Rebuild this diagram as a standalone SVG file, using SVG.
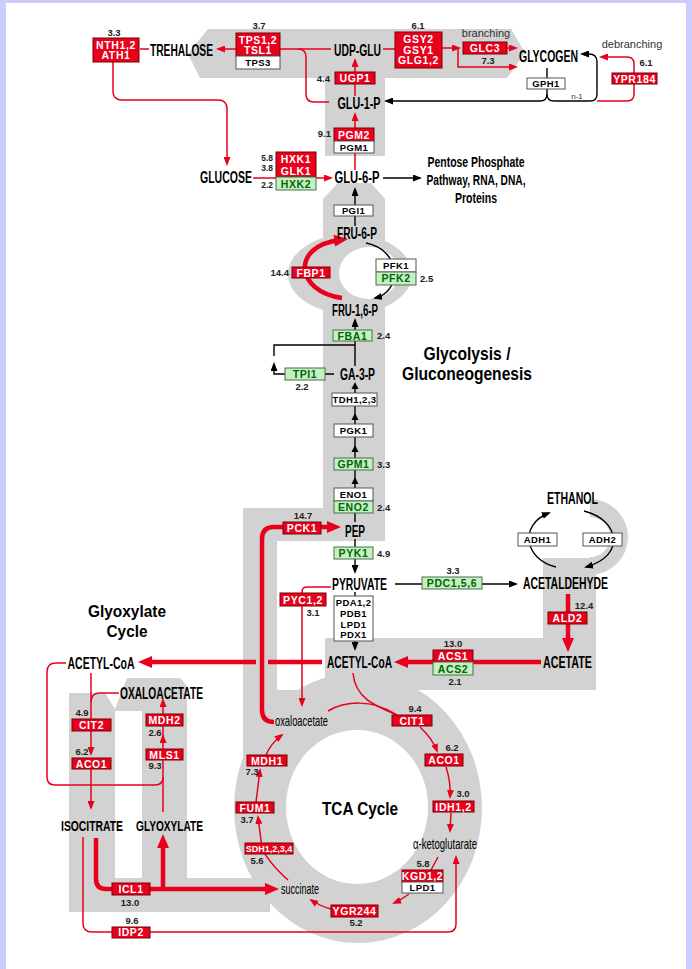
<svg xmlns="http://www.w3.org/2000/svg" width="692" height="969" viewBox="0 0 692 969">
<defs>
<style>
.gr{fill:#d2d2d2}
.wh{fill:#fff}
.rb{fill:#e8001c;stroke:#7a0000;stroke-width:1}
.gb{fill:#c4f0c4;stroke:#4a6e4a;stroke-width:1}
.wb{fill:#fff;stroke:#555;stroke-width:1}
text{font-family:"Liberation Sans",Arial,Helvetica,sans-serif}
.rt{font-size:10.5px;font-weight:bold;fill:#fff;text-anchor:middle;letter-spacing:0.6px}
.gt{font-size:10.5px;font-weight:bold;fill:#006600;text-anchor:middle;letter-spacing:0.6px}
.wt{font-size:9.5px;font-weight:bold;fill:#000;text-anchor:middle;letter-spacing:0.4px}
.n{font-size:9.5px;font-weight:bold;fill:#222;text-anchor:middle}
.nl{font-size:9.5px;font-weight:bold;fill:#222;text-anchor:start}
.nr{font-size:9.5px;font-weight:bold;fill:#222;text-anchor:end}
.m{font-size:16px;font-weight:bold;fill:#000;text-anchor:middle}
.ml{font-size:15px;fill:#000;text-anchor:middle}
.t{font-weight:bold;fill:#000;text-anchor:middle}
.s{font-size:11px;fill:#333;text-anchor:middle}
.rl{fill:none;stroke:#e8001c;stroke-width:1.5}
.rk{fill:none;stroke:#e8001c;stroke-width:4.5}
.bl{fill:none;stroke:#000;stroke-width:1.4}
</style>
<marker id="ab" viewBox="0 0 9 7" refX="7" refY="3.5" markerWidth="9" markerHeight="7" markerUnits="userSpaceOnUse" orient="auto"><path d="M0,0 L9,3.5 L0,7 z" fill="#000"/></marker>
<marker id="ar" viewBox="0 0 9 7" refX="7" refY="3.5" markerWidth="9" markerHeight="7" markerUnits="userSpaceOnUse" orient="auto"><path d="M0,0 L9,3.5 L0,7 z" fill="#e8001c"/></marker>
<marker id="ak" viewBox="0 0 14 12" refX="6" refY="6" markerWidth="14" markerHeight="12" markerUnits="userSpaceOnUse" orient="auto"><path d="M0,0 L14,6 L0,12 z" fill="#e8001c"/></marker>
</defs>

<rect x="0" y="0" width="692" height="969" fill="#fff"/>
<rect x="0" y="0" width="692" height="3" fill="#ccccff"/>
<rect x="0" y="0" width="6" height="969" fill="#ccccff"/>
<rect x="686" y="0" width="6" height="969" fill="#ccccff"/>

<g id="background">
<polygon class="gr" points="188,54 208,29 511,29 525,53 507,78 385,78 385,156 325,156 325,78 200,78"/>
<polygon class="gr" points="338,183 371,183 385,199 385,541 243,541 243,508 323,508 323,199"/>
<ellipse class="gr" cx="350" cy="274" rx="62" ry="40"/>
<ellipse class="wh" cx="369" cy="273" rx="30" ry="26"/>
<rect class="gr" x="243" y="508" width="34" height="252"/>
<rect class="gr" x="243" y="690" width="80" height="48"/>
<path class="gr" fill-rule="evenodd" d="M234 808 A124 135 0 1 0 482 808 A124 135 0 1 0 234 808 Z M286 807 A71 77 0 1 0 428 807 A71 77 0 1 0 286 807 Z"/>
<rect class="gr" x="325" y="638" width="271" height="52"/>
<rect class="gr" x="543" y="558" width="53" height="132"/>
<path class="gr" d="M590 499 A38 38 0 0 1 590 575 L590 557 A20 20 0 0 0 590 517 Z"/>
<path class="gr" fill-rule="evenodd" d="M69 693 L105 693 L115 709 L127 678 L180 678 L187 686 L187 878 L270 878 L270 912 L69 912 Z M115 711 L142 711 L142 878 L115 878 Z"/>
</g>

<g id="connectors">
<path class="bl" d="M383 178 L420 178" marker-end="url(#ab)"/>
<path class="bl" d="M355 226 L355 189" marker-end="url(#ab)"/>
<path class="bl" d="M366 243 C402 250 402 292 375 298" marker-end="url(#ab)"/>
<path class="bl" d="M355 366 L355 320" marker-end="url(#ab)"/>
<path class="bl" d="M355 345 L274 345 L274 356"/>
<path class="bl" d="M334 374 L274 374 L274 364" marker-end="url(#ab)"/>
<path class="bl" d="M355 522 L355 384"/>
<polygon points="355,382 351.5,389 358.5,389" fill="#000"/>
<polygon points="355,413 351.5,420 358.5,420" fill="#000"/>
<polygon points="355,445 351.5,452 358.5,452" fill="#000"/>
<polygon points="355,477 351.5,484 358.5,484" fill="#000"/>
<path class="bl" d="M355 539 L355 572" marker-end="url(#ab)"/>
<path class="bl" d="M395 584 L516 584" marker-end="url(#ab)"/>
<path class="bl" d="M355 592 L355 649" marker-end="url(#ab)"/>
<path class="bl" d="M556 567 C525 560 518 525 549 513" marker-end="url(#ab)"/>
<path class="bl" d="M584 511 C620 520 626 556 586 567" marker-end="url(#ab)"/>
<path class="bl" d="M547 68 L547 94 Q547 101 540 101 L386 101" marker-end="url(#ab)"/>
<path class="bl" d="M547 94 Q547 101 554 101 L590 101 Q597 101 597 94 L597 62 Q597 54 589 54 L582 54" marker-end="url(#ab)"/>
<path class="rl" d="M331 49 L280 49"/>
<path class="rl" d="M236 49 L218 49" marker-end="url(#ar)"/>
<path class="rl" d="M329 102 L314 102 Q306 102 306 94 L306 57 Q306 49 298 49"/>
<path class="rl" d="M140 49 L149 49"/>
<path class="rl" d="M113 62 L113 91 Q113 100 122 100 L218 100 Q227 100 227 109 L227 164" marker-end="url(#ar)"/>
<path class="rl" d="M355 96 L355 60" marker-end="url(#ar)"/>
<path class="rl" d="M355 170 L355 114" marker-end="url(#ar)"/>
<path class="rl" d="M253 178 L331 178" marker-end="url(#ar)"/>
<path class="rl" d="M383 49 L396 49"/>
<path class="rl" d="M442 48 L459 48" marker-end="url(#ar)"/>
<path class="rl" d="M507 48 L516 48" marker-end="url(#ar)"/>
<path class="rl" d="M458 48 L458 67 L516 67" marker-end="url(#ar)"/>
<path class="rl" d="M597 101 L627 101 Q634 101 634 94 L634 84"/>
<path class="rl" d="M634 73 L634 64 Q634 57 627 57 L601 57" marker-end="url(#ar)"/>
<path class="rl" d="M331 587 L307 587 Q302 587 302 592 L302 705" marker-end="url(#ar)"/>
<path class="rl" d="M353 673 C355 698 375 706 397 715"/>
<path class="rl" d="M328 711 C345 701 372 699 395 714"/>
<path class="rl" d="M420 727 Q432 738 437 751" marker-end="url(#ar)"/>
<path class="rl" d="M446 767 Q451 782 450 797" marker-end="url(#ar)"/>
<path class="rl" d="M451 813 L450 831" marker-end="url(#ar)"/>
<path class="rl" d="M438 857 L431 870"/>
<path class="rl" d="M409 894 Q401 900 394 903" marker-end="url(#ar)"/>
<path class="rl" d="M331 909 Q320 906 311 900" marker-end="url(#ar)"/>
<path class="rl" d="M288 880 Q268 862 262 848 L258 817" marker-end="url(#ar)"/>
<path class="rl" d="M256 802 L260 770" marker-end="url(#ar)"/>
<path class="rl" d="M266 755 Q271 743 282 735" marker-end="url(#ar)"/>
<path class="rl" d="M91 673 L91 719"/>
<path class="rl" d="M91 731 L91 754" marker-end="url(#ar)"/>
<path class="rl" d="M91 769 L91 808" marker-end="url(#ar)"/>
<path class="rl" d="M119 693 L100 693 Q91 693 91 702"/>
<path class="rl" d="M163 749 L163 736" marker-end="url(#ar)"/>
<path class="rl" d="M163 738 L163 726"/>
<path class="rl" d="M163 714 L163 700" marker-end="url(#ar)"/>
<path class="rl" d="M163 812 L163 760"/>
<path class="rl" d="M66 663 L56 663 Q47 663 47 672 L47 777 Q47 785 55 785 L155 785 Q163 785 163 777"/>
<path class="rl" d="M83 837 L83 923 Q83 932 92 932 L448 932 Q456 932 456 924 L456 857" marker-end="url(#ar)"/>
<path class="rk" d="M342 298 C296 292 290 246 340 240" marker-end="url(#ak)"/>
<path class="rk" d="M274 722 Q262 722 262 710 L262 539 Q262 527 274 527 L333 527" marker-end="url(#ak)"/>
<path class="rk" d="M568 594 L568 644" marker-end="url(#ak)"/>
<path class="rk" d="M541 662 L402 662" marker-end="url(#ak)"/>
<path class="rk" d="M322 662 L268 662"/>
<path class="rk" d="M256 662 L146 662" marker-end="url(#ak)"/>
<path class="rk" d="M96 838 L96 879 Q96 889 106 889 L271 889" marker-end="url(#ak)"/>
<path class="rk" d="M163 889 L163 842" marker-end="url(#ak)"/>
</g>

<g id="metabolites">
<text class="m" x="181.5" y="56" textLength="63" lengthAdjust="spacingAndGlyphs">TREHALOSE</text>
<text class="m" x="357.5" y="56" textLength="47" lengthAdjust="spacingAndGlyphs">UDP-GLU</text>
<text class="m" x="548.5" y="62" textLength="59" lengthAdjust="spacingAndGlyphs">GLYCOGEN</text>
<text class="m" x="359" y="109" textLength="43" lengthAdjust="spacingAndGlyphs">GLU-1-P</text>
<text class="m" x="226" y="183" textLength="52" lengthAdjust="spacingAndGlyphs">GLUCOSE</text>
<text class="m" x="357" y="183" textLength="45" lengthAdjust="spacingAndGlyphs">GLU-6-P</text>
<text class="m" x="476" y="167" textLength="97" lengthAdjust="spacingAndGlyphs" style="font-size:15px">Pentose Phosphate</text>
<text class="m" x="476" y="185" textLength="99" lengthAdjust="spacingAndGlyphs" style="font-size:15px">Pathway, RNA, DNA,</text>
<text class="m" x="476" y="203" textLength="42" lengthAdjust="spacingAndGlyphs" style="font-size:15px">Proteins</text>
<text class="m" x="357" y="239" textLength="40" lengthAdjust="spacingAndGlyphs">FRU-6-P</text>
<text class="m" x="355" y="316" textLength="46" lengthAdjust="spacingAndGlyphs">FRU-1,6-P</text>
<text class="m" x="357.5" y="380" textLength="35" lengthAdjust="spacingAndGlyphs">GA-3-P</text>
<text class="m" x="355" y="537" textLength="20" lengthAdjust="spacingAndGlyphs">PEP</text>
<text class="m" x="359.5" y="590" textLength="55" lengthAdjust="spacingAndGlyphs">PYRUVATE</text>
<text class="m" x="565.5" y="589" textLength="85" lengthAdjust="spacingAndGlyphs">ACETALDEHYDE</text>
<text class="m" x="572.5" y="504" textLength="51" lengthAdjust="spacingAndGlyphs">ETHANOL</text>
<text class="m" x="567.5" y="668" textLength="49" lengthAdjust="spacingAndGlyphs">ACETATE</text>
<text class="m" x="359.5" y="668" textLength="65" lengthAdjust="spacingAndGlyphs">ACETYL-CoA</text>
<text class="m" x="101" y="669" textLength="67" lengthAdjust="spacingAndGlyphs">ACETYL-CoA</text>
<text class="m" x="161.5" y="699" textLength="83" lengthAdjust="spacingAndGlyphs">OXALOACETATE</text>
<text class="m" x="92" y="831" textLength="62" lengthAdjust="spacingAndGlyphs" style="font-size:15px">ISOCITRATE</text>
<text class="m" x="169.5" y="831" textLength="67" lengthAdjust="spacingAndGlyphs" style="font-size:15px">GLYOXYLATE</text>
<text class="ml" x="301.5" y="726" textLength="53" lengthAdjust="spacingAndGlyphs">oxaloacetate</text>
<text class="ml" x="445" y="849" textLength="64" lengthAdjust="spacingAndGlyphs">α-ketoglutarate</text>
<text class="ml" x="300" y="894" textLength="38" lengthAdjust="spacingAndGlyphs">succinate</text>
</g>

<g id="titles">
<text class="t" x="467" y="360" style="font-size:19px" textLength="87" lengthAdjust="spacingAndGlyphs">Glycolysis /</text>
<text class="t" x="467" y="380" style="font-size:19px" textLength="130" lengthAdjust="spacingAndGlyphs">Gluconeogenesis</text>
<text class="t" x="127" y="617" style="font-size:17px" textLength="78" lengthAdjust="spacingAndGlyphs">Glyoxylate</text>
<text class="t" x="127" y="637" style="font-size:17px" textLength="41" lengthAdjust="spacingAndGlyphs">Cycle</text>
<text class="t" x="360" y="815" style="font-size:19px" textLength="76" lengthAdjust="spacingAndGlyphs">TCA Cycle</text>
<text class="s" x="486" y="37">branching</text>
<text class="s" x="632" y="48">debranching</text>
<text class="s" x="577" y="99" style="font-size:8px">n-1</text>
</g>

<g id="n-nth"><rect class="rb" x="93" y="38" width="46" height="24"/><text class="rt" x="116" y="48.5">NTH1,2</text><text class="rt" x="116" y="59">ATH1</text><text class="n" x="114" y="36">3.3</text></g>
<g id="n-tps"><rect class="rb" x="236" y="33" width="44" height="23"/><rect class="wb" x="236" y="56" width="44" height="13"/><text class="rt" x="258" y="43.5">TPS1,2</text><text class="rt" x="258" y="53.5">TSL1</text><text class="wt" x="258" y="66">TPS3</text><text class="n" x="259" y="29">3.7</text></g>
<g id="n-gsy"><rect class="rb" x="395" y="32" width="47" height="36"/><text class="rt" x="418.5" y="43">GSY2</text><text class="rt" x="418.5" y="53.5">GSY1</text><text class="rt" x="418.5" y="64">GLG1,2</text><text class="n" x="418" y="29">6.1</text></g>
<g id="n-glc3"><rect class="rb" x="463" y="42" width="44" height="12"/><text class="rt" x="485" y="52">GLC3</text><text class="n" x="488" y="64">7.3</text></g>
<g id="n-gph1"><rect class="wb" x="527" y="78" width="38" height="11"/><text class="wt" x="546" y="87">GPH1</text></g>
<g id="n-ypr"><rect class="rb" x="612" y="73" width="45" height="11"/><text class="rt" x="634.5" y="82.5">YPR184</text><text class="n" x="646" y="66">6.1</text></g>
<g id="n-ugp1"><rect class="rb" x="335" y="72" width="40" height="12"/><text class="rt" x="355" y="82">UGP1</text><text class="nr" x="330" y="82">4.4</text></g>
<g id="n-pgm"><rect class="rb" x="334" y="128" width="40" height="13"/><rect class="wb" x="334" y="141" width="40" height="12"/><text class="rt" x="354" y="138.5">PGM2</text><text class="wt" x="354" y="150.5">PGM1</text><text class="nr" x="331" y="137">9.1</text></g>
<g id="n-hxk"><rect class="rb" x="276" y="152" width="40" height="25"/><rect class="gb" x="276" y="177" width="40" height="13"/><text class="rt" x="296" y="162.5">HXK1</text><text class="rt" x="296" y="174.5">GLK1</text><text class="gt" x="296" y="187.5">HXK2</text><text class="nr" x="273" y="160.5" style="font-size:8.5px">5.8</text><text class="nr" x="273" y="171" style="font-size:8.5px">3.8</text><text class="nr" x="273" y="188" style="font-size:8.5px">2.2</text></g>
<g id="n-pgi1"><rect class="wb" x="334" y="205" width="39" height="11"/><text class="wt" x="353.5" y="214">PGI1</text></g>
<g id="n-fbp1"><rect class="rb" x="292" y="267" width="38" height="11"/><text class="rt" x="311" y="276.5">FBP1</text><text class="nr" x="289" y="276">14.4</text></g>
<g id="n-pfk"><rect class="wb" x="376" y="259" width="40" height="13"/><rect class="gb" x="376" y="272" width="40" height="13"/><text class="wt" x="396" y="269">PFK1</text><text class="gt" x="396" y="282">PFK2</text><text class="nl" x="420" y="282">2.5</text></g>
<g id="n-fba1"><rect class="gb" x="333" y="330" width="39" height="11"/><text class="gt" x="352.5" y="339.5">FBA1</text><text class="nl" x="377" y="339">2.4</text></g>
<g id="n-tpi1"><rect class="gb" x="285" y="368" width="40" height="12"/><text class="gt" x="305" y="378">TPI1</text><text class="n" x="302" y="390">2.2</text></g>
<g id="n-tdh"><rect class="wb" x="332" y="393" width="45" height="13"/><text class="wt" x="354.5" y="403">TDH1,2,3</text></g>
<g id="n-pgk1"><rect class="wb" x="334" y="424" width="39" height="13"/><text class="wt" x="353.5" y="434">PGK1</text></g>
<g id="n-gpm1"><rect class="gb" x="334" y="458" width="39" height="12"/><text class="gt" x="353.5" y="468">GPM1</text><text class="nl" x="377" y="468">3.3</text></g>
<g id="n-eno"><rect class="wb" x="334" y="488" width="39" height="13"/><rect class="gb" x="334" y="501" width="39" height="12"/><text class="wt" x="353.5" y="498">ENO1</text><text class="gt" x="353.5" y="511">ENO2</text><text class="nl" x="377" y="511">2.4</text></g>
<g id="n-pck1"><rect class="rb" x="283" y="522" width="38" height="12"/><text class="rt" x="302" y="532">PCK1</text><text class="n" x="303" y="519">14.7</text></g>
<g id="n-pyk1"><rect class="gb" x="334" y="547" width="39" height="12"/><text class="gt" x="353.5" y="557">PYK1</text><text class="nl" x="377" y="557">4.9</text></g>
<g id="n-pdc"><rect class="gb" x="422" y="577" width="60" height="12"/><text class="gt" x="452" y="587">PDC1,5,6</text><text class="n" x="453" y="574">3.3</text></g>
<g id="n-adh1"><rect class="wb" x="518" y="533" width="39" height="13"/><text class="wt" x="537.5" y="543">ADH1</text></g>
<g id="n-adh2"><rect class="wb" x="583" y="533" width="39" height="13"/><text class="wt" x="602.5" y="543">ADH2</text></g>
<g id="n-pyc"><rect class="rb" x="280" y="593" width="46" height="13"/><text class="rt" x="303" y="603.5">PYC1,2</text><text class="n" x="313" y="616">3.1</text></g>
<g id="n-pda"><rect class="wb" x="334" y="596" width="39" height="45"/><text class="wt" x="353.5" y="606">PDA1,2</text><text class="wt" x="353.5" y="617">PDB1</text><text class="wt" x="353.5" y="628">LPD1</text><text class="wt" x="353.5" y="638">PDX1</text></g>
<g id="n-ald2"><rect class="rb" x="548" y="612" width="39" height="12"/><text class="rt" x="567.5" y="622">ALD2</text><text class="n" x="584" y="609">12.4</text></g>
<g id="n-acs"><rect class="rb" x="433" y="650" width="40" height="12"/><rect class="gb" x="433" y="662" width="40" height="13"/><text class="rt" x="453" y="660">ACS1</text><text class="gt" x="453" y="672.5">ACS2</text><text class="n" x="453" y="647">13.0</text><text class="n" x="455" y="685">2.1</text></g>
<g id="n-cit2"><rect class="rb" x="72" y="719" width="39" height="12"/><text class="rt" x="91.5" y="729">CIT2</text><text class="n" x="82" y="716">4.9</text></g>
<g id="n-aco1g"><rect class="rb" x="72" y="758" width="39" height="11"/><text class="rt" x="91.5" y="767.5">ACO1</text><text class="n" x="82" y="755">6.2</text></g>
<g id="n-mdh2"><rect class="rb" x="146" y="714" width="37" height="12"/><text class="rt" x="164.5" y="724">MDH2</text><text class="n" x="155" y="736">2.6</text></g>
<g id="n-mls1"><rect class="rb" x="146" y="749" width="37" height="11"/><text class="rt" x="164.5" y="758.5">MLS1</text><text class="n" x="155" y="769">9.3</text></g>
<g id="n-icl1"><rect class="rb" x="112" y="883" width="38" height="12"/><text class="rt" x="131" y="893">ICL1</text><text class="n" x="130" y="906">13.0</text></g>
<g id="n-idp2"><rect class="rb" x="112" y="927" width="38" height="11"/><text class="rt" x="131" y="936">IDP2</text><text class="n" x="132" y="924">9.6</text></g>
<g id="n-cit1"><rect class="rb" x="392" y="715" width="40" height="11"/><text class="rt" x="412" y="724.5">CIT1</text><text class="n" x="415" y="712">9.4</text></g>
<g id="n-aco1"><rect class="rb" x="425" y="754" width="38" height="12"/><text class="rt" x="444" y="764">ACO1</text><text class="n" x="452" y="751">6.2</text></g>
<g id="n-mdh1"><rect class="rb" x="247" y="755" width="40" height="11"/><text class="rt" x="267" y="764.5">MDH1</text><text class="n" x="252" y="775">7.3</text></g>
<g id="n-idh"><rect class="rb" x="433" y="801" width="41" height="11"/><text class="rt" x="453.5" y="810.5">IDH1,2</text><text class="n" x="463" y="797">3.0</text></g>
<g id="n-fum1"><rect class="rb" x="236" y="802" width="38" height="11"/><text class="rt" x="255" y="811.5">FUM1</text><text class="n" x="247" y="823">3.7</text></g>
<g id="n-sdh"><rect class="rb" x="245" y="843" width="48" height="11"/><text class="rt" x="269" y="852" style="font-size:9px;letter-spacing:0">SDH1,2,3,4</text><text class="n" x="257" y="864">5.6</text></g>
<g id="n-kgd"><rect class="rb" x="402" y="870" width="41" height="12"/><rect class="wb" x="402" y="882" width="41" height="11"/><text class="rt" x="422.5" y="880">KGD1,2</text><text class="wt" x="422.5" y="891">LPD1</text><text class="n" x="423" y="867">5.8</text></g>
<g id="n-ygr"><rect class="rb" x="331" y="905" width="47" height="12"/><text class="rt" x="354.5" y="915">YGR244</text><text class="n" x="356" y="926">5.2</text></g>
</svg>
